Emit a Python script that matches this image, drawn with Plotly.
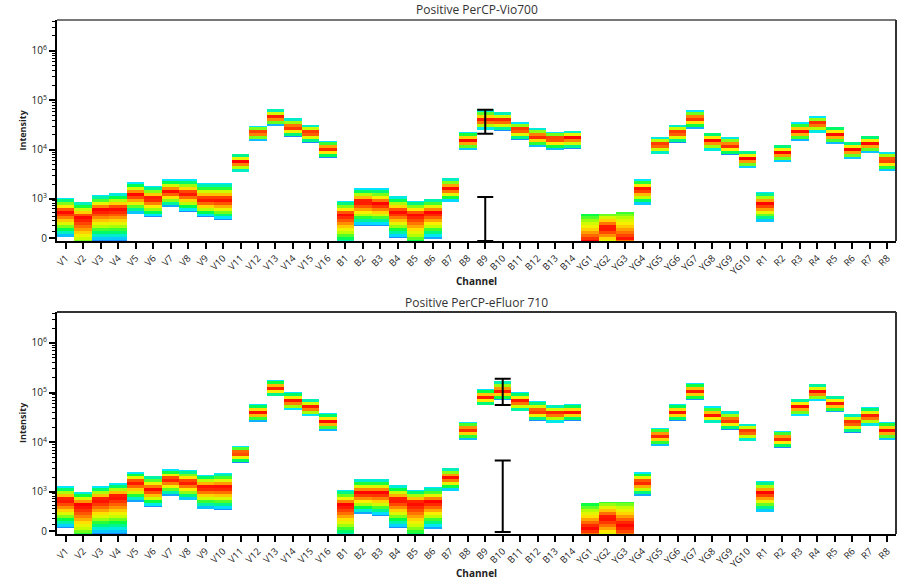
import numpy as np
import plotly.graph_objects as go

# ---------------- data ----------------
channels = (["V%d" % i for i in range(1, 17)] + ["B%d" % i for i in range(1, 15)]
            + ["YG%d" % i for i in range(1, 11)] + ["R%d" % i for i in range(1, 9)])

# Panel 1: Positive PerCP-Vio700  (band low edge / peak / high edge, intensity units)
p1_low = [15, -350, -46, -46, 478, 380, 695, 530, 380, 310, 3590, 15300, 30700, 18400, 13900, 6910,
          -160, 195, 195, 0, -250, -15, 895, 10000, 25500, 24400, 16000, 11500, 10000, 10500,
          -46, -46, -46, 775, 8320, 13900, 26700, 9570, 7950, 4330,
          270, 5730, 15300, 22200, 13300, 6590, 8720, 3760]
p1_peak = [560, 400, 628, 660, 1330, 1090, 1530, 1390, 1040, 1040, 6000, 23200, 46800, 29400, 23200, 11000,
           478, 940, 855, 560, 478, 530, 1770, 16000, 40700, 40700, 26700, 19300, 17560, 18400,
           -46, 178, -20, 1690, 13300, 23200, 44700, 16000, 12700, 6910,
           855, 9140, 24400, 35400, 21200, 10500, 13900, 6590]
p1_high = [1090, 895, 1210, 1330, 2240, 1860, 2580, 2580, 2135, 2135, 8320, 30700, 64900, 42600, 32200, 15300,
           940, 1690, 1690, 1150, 940, 1040, 2700, 23200, 64900, 56400, 35400, 28000, 23200, 24400,
           478, 478, 530, 2580, 18400, 32200, 62000, 22200, 18400, 9570,
           1390, 12700, 35400, 46800, 29400, 14600, 19300, 9140]
p1_err_x = ["B9", "B9"]
p1_err_low = [21200, -46]
p1_err_high = [64900, 1090]

# Panel 2: Positive PerCP-eFluor 710
p2_low = [46, -300, -46, -46, 595, 450, 812, 660, 400, 380, 3940, 26700, 85900, 44700, 33800, 17560,
          -160, 290, 250, 46, -250, 30, 1040, 11500, 56400, 71200, 42600, 28000, 25500, 28000,
          -46, -46, -46, 812, 8720, 28000, 71200, 25500, 18400, 11000,
          330, 7950, 33800, 68000, 40700, 16000, 22200, 11500]
p2_peak = [695, 530, 695, 812, 1610, 1150, 1860, 1610, 1270, 1270, 6590, 42600, 131000, 71200, 53900, 28000,
           530, 990, 990, 695, 595, 628, 2040, 19300, 85900, 113600, 71200, 44700, 40700, 42600,
           60, 230, 110, 1610, 14600, 42600, 113600, 37100, 29400, 17560,
           990, 12700, 56400, 108500, 64900, 26700, 35400, 18400]
p2_high = [1270, 990, 1270, 1460, 2580, 2135, 2980, 2840, 2240, 2460, 8720, 59100, 181000, 103000, 74700, 38800,
           1090, 1770, 1770, 1330, 1090, 1210, 3120, 26700, 119000, 173000, 103000, 68000, 56400, 59100,
           560, 595, 595, 2580, 20200, 59100, 158000, 53900, 42600, 24400,
           1610, 17560, 74700, 150000, 85900, 37100, 51400, 26700]
p2_err_x = ["B10", "B10"]
p2_err_low = [56400, -15]
p2_err_high = [190000, 4330]

# density at (lower, upper) band edges; near-zero channels pile up at the bottom
edge_density = {"YG1": (0.85, 0.38), "YG2": (0.62, 0.45), "YG3": (0.85, 0.45)}

titles = ["Positive PerCP-Vio700", "Positive PerCP-eFluor 710"]
major_vals = [0, 1e3, 1e4, 1e5, 1e6]
major_text = ["0", "10<sup>3</sup>", "10<sup>4</sup>", "10<sup>5</sup>", "10<sup>6</sup>"]

# ---------------- scale ----------------
COF = 330.0


def T(v):
    return float(np.arcsinh(np.asarray(v, dtype=float) / COF) / np.log(10))


Y_MIN, Y_MAX = -45.0, 4.2e6
ylo, yhi = T(Y_MIN), T(Y_MAX)
FINE = 0.02
COARSE = 0.06
ycent = np.arange(ylo, yhi, FINE) + FINE / 2

minor_vals = [k * 100 for k in range(1, 10)]
for e in range(3, 7):
    minor_vals += [k * 10 ** e for k in range(2, 10)]
minor_t = [T(v) for v in minor_vals if v < Y_MAX]

colorscale = [[0.0, "#1a8cff"], [0.18, "#00e6ff"], [0.40, "#00ff44"], [0.58, "#c4ff00"],
              [0.70, "#ffee00"], [0.84, "#ff8000"], [1.0, "#ff0000"]]


def band_matrix(low, peak, high):
    Z = np.full((len(ycent), len(channels)), np.nan)
    for j, ch in enumerate(channels):
        a, b, c = T(low[j]), T(peak[j]), T(high[j])
        eb, et = edge_density.get(ch, (0.0, 0.18))
        for i, y in enumerate(ycent):
            if a <= y <= c:
                yc = min(max(np.round(y / COARSE) * COARSE, a), c)
                if yc >= b:
                    f = (yc - b) / (c - b) if c > b else 0
                    z = 1 - (1 - et) * f
                else:
                    f = (b - yc) / (b - a) if b > a else 0
                    z = 1 - (1 - eb) * f ** 1.4
                Z[i, j] = z
    return Z


FONT = "Open Sans"
fig = go.Figure()
panels = [(p1_low, p1_peak, p1_high, p1_err_x, p1_err_low, p1_err_high),
          (p2_low, p2_peak, p2_high, p2_err_x, p2_err_low, p2_err_high)]
for k, (lo, pk, hi, ex, elo, ehi) in enumerate(panels):
    xa = "x" if k == 0 else "x2"
    ya = "y" if k == 0 else "y2"
    fig.add_trace(go.Heatmap(x=channels, y=ycent, z=band_matrix(lo, pk, hi), colorscale=colorscale,
                             zmin=0, zmax=1, showscale=False, xaxis=xa, yaxis=ya,
                             hoverongaps=False, xgap=0, ygap=0))
    mids = [(T(l) + T(h)) / 2 for l, h in zip(elo, ehi)]
    fig.add_trace(go.Scatter(x=ex, y=mids, mode="markers", xaxis=xa, yaxis=ya, showlegend=False,
                             marker=dict(size=1, color="rgba(0,0,0,0)"),
                             error_y=dict(type="data", symmetric=False,
                                          array=[T(h) - m for h, m in zip(ehi, mids)],
                                          arrayminus=[m - T(l) for l, m in zip(elo, mids)],
                                          color="black", thickness=2, width=8)))

H = 584.0
dom1 = [1 - 241 / H, 1 - 20 / H]
dom2 = [1 - 534 / H, 1 - 312 / H]

xcommon = dict(type="category", categoryorder="array", categoryarray=channels, range=[-0.5, 47.5],
               showline=True, linecolor="black", linewidth=2, ticks="outside", ticklen=6, tickwidth=2,
               tickcolor="black", tickangle=-45, tickfont=dict(family=FONT, size=9.5, color="#222"),
               showgrid=False, zeroline=False, automargin=False, fixedrange=True)
ycommon = dict(range=[ylo, yhi], tickmode="array", tickvals=[T(v) for v in major_vals], ticktext=major_text,
               ticks="outside", ticklen=6, tickwidth=2, tickcolor="black", showline=True, linecolor="black",
               linewidth=2, showgrid=False, zeroline=False, automargin=False, fixedrange=True,
               tickfont=dict(family=FONT, size=10, color="#222"),
               minor=dict(tickmode="array", tickvals=minor_t, ticks="outside", ticklen=3, tickwidth=1,
                          tickcolor="black", showgrid=False))

fig.update_layout(
    width=904, height=584, margin=dict(l=57, r=8, t=0, b=0),
    paper_bgcolor="white", plot_bgcolor="white", showlegend=False,
    xaxis=dict(xcommon, domain=[0, 1], anchor="y"),
    yaxis=dict(ycommon, domain=dom1, anchor="x"),
    xaxis2=dict(xcommon, domain=[0, 1], anchor="y2"),
    yaxis2=dict(ycommon, domain=dom2, anchor="x2"),
)

W = 839.0


def px_x(x):
    return (x - 57) / W


def px_y(y):
    return 1 - y / H


ann = []
for k, (ty, cy, iy) in enumerate([(10, 281, 130.5), (302, 573, 423)]):
    ann.append(dict(text=titles[k], x=px_x(476.5), y=px_y(ty), xref="paper", yref="paper",
                    showarrow=False, font=dict(family=FONT, size=12, color="#333"),
                    xanchor="center", yanchor="middle"))
    ann.append(dict(text="<b>Channel</b>", x=px_x(476.5), y=px_y(cy), xref="paper", yref="paper",
                    showarrow=False, font=dict(family=FONT, size=10, color="#222"),
                    xanchor="center", yanchor="middle"))
    ann.append(dict(text="<b>Intensity</b>", x=px_x(22), y=px_y(iy), xref="paper", yref="paper",
                    showarrow=False, textangle=-90, font=dict(family=FONT, size=9, color="#222"),
                    xanchor="center", yanchor="middle"))
fig.update_layout(annotations=ann)

shapes = []
for xr, yr, topc in [("x domain", "y domain", "#777"), ("x2 domain", "y2 domain", "#333")]:
    shapes.append(dict(type="line", xref=xr, yref=yr, x0=0, x1=1, y0=1, y1=1,
                       line=dict(color=topc, width=2)))
    shapes.append(dict(type="line", xref=xr, yref=yr, x0=1, x1=1, y0=0, y1=1,
                       line=dict(color="#333", width=2)))
fig.update_layout(shapes=shapes)

fig.write_html("out.html", config={"displayModeBar": False},
               post_script="document.body.style.margin='0';document.body.style.overflow='hidden';")
